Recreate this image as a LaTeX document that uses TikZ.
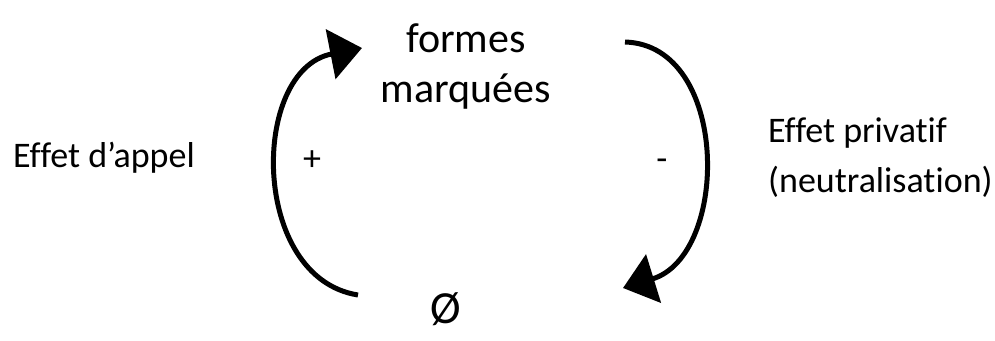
\documentclass[tikz,border=0pt]{standalone}
\usepackage{fontspec}
\setmainfont[Ligatures={NoCommon}]{Carlito}
\usetikzlibrary{arrows.meta}
\tikzset{
  loopline/.style={line width=5pt,-{Triangle[length=32pt,width=50pt]}},
  bigtext/.style={font=\fontsize{42}{50}\selectfont,inner sep=0pt,align=center},
  sidetext/.style={font=\fontsize{36}{50}\selectfont,inner sep=0pt},
}
\begin{document}
\begin{tikzpicture}[x=1pt,y=-1pt]
\useasboundingbox (0,0) rectangle (995,340);
\node[bigtext] (fm) at (466,66) {formes\\marquées};
\node[font=\fontsize{46}{46}\selectfont,inner sep=0pt] (zero) at (446,309) {Ø};
\node[sidetext,anchor=center] (appel) at (104,158) {Effet d’appel};
\node[sidetext,anchor=west,align=left] (priv) at (768,158) {Effet privatif\\(neutralisation)};
\node[sidetext] (plus) at (312,161) {+};
\node[sidetext] (minus) at (662,165) {-};
\coordinate (l0) at (358,295);
\coordinate (l1) at (362,48);
\coordinate (r0) at (625,42);
\coordinate (r1) at (623,288);
\draw[loopline] (l0) .. controls (250,278) and (250,70) .. (l1);
\draw[loopline] (r0) .. controls (730,45) and (730,255) .. (r1);
\end{tikzpicture}
\end{document}
